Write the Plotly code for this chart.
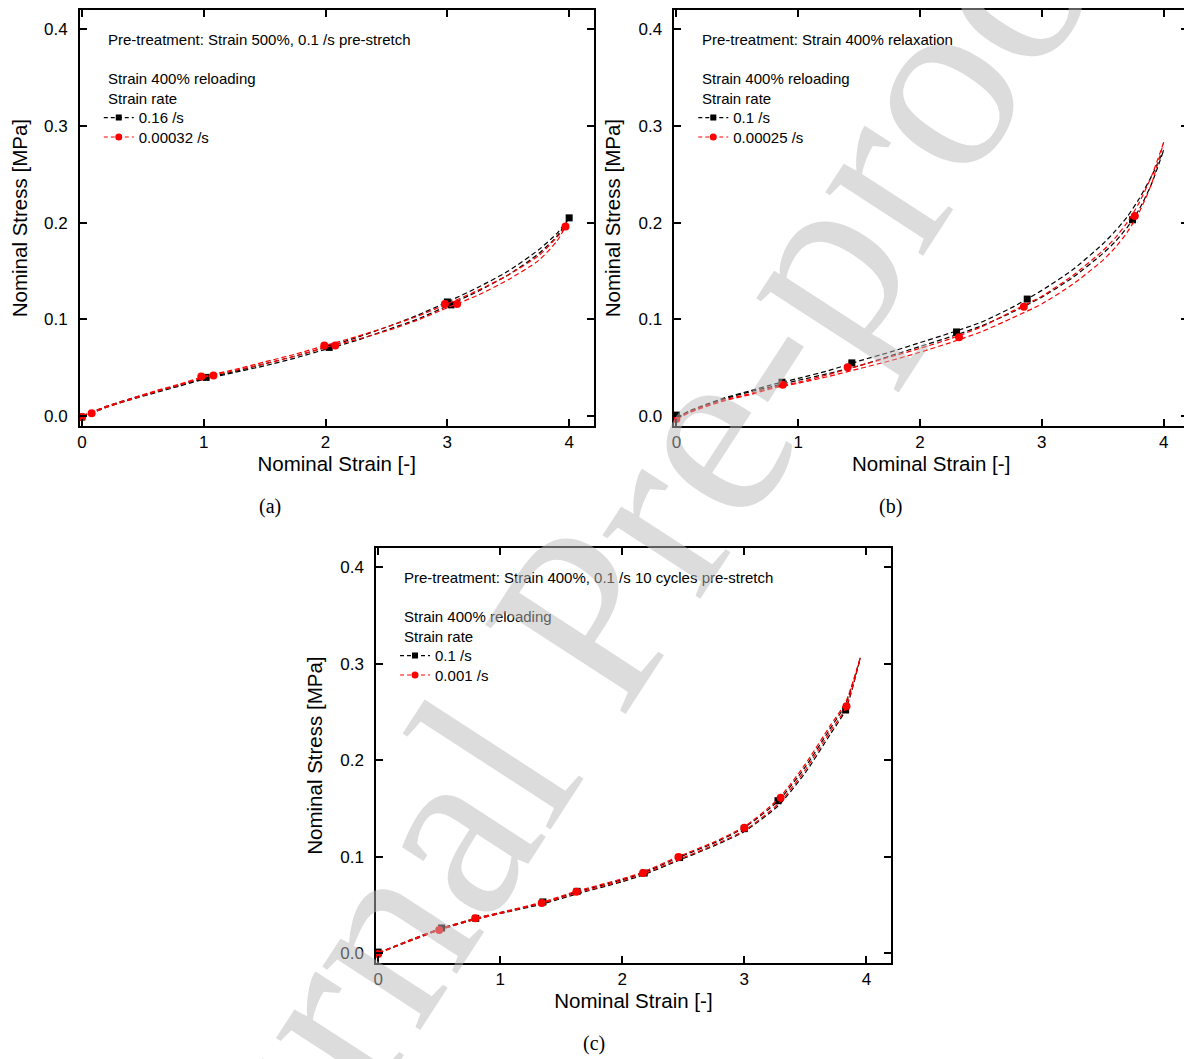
import plotly.graph_objects as go

# ---------------- data ----------------
# Panel (a): pre-treatment 500% pre-stretch
A_fast_strain = [0, 0.1, 0.2, 0.4, 0.6, 0.8, 1.0, 1.25, 1.5, 1.75, 2.0, 2.25, 2.5, 2.75, 3.0, 3.25, 3.5, 3.75, 3.9, 4.0]
A_fast_load = [0.000, 0.005, 0.010, 0.018, 0.025, 0.032, 0.039, 0.046, 0.054, 0.062, 0.071, 0.081, 0.092, 0.104, 0.118, 0.133, 0.150, 0.172, 0.189, 0.205]
A_fast_unload = [0.000, 0.004, 0.009, 0.017, 0.024, 0.031, 0.038, 0.045, 0.052, 0.060, 0.069, 0.078, 0.089, 0.100, 0.114, 0.129, 0.146, 0.168, 0.186, 0.205]
A_slow_strain = [0, 0.1, 0.2, 0.4, 0.6, 0.8, 1.0, 1.25, 1.5, 1.75, 2.0, 2.25, 2.5, 2.75, 3.0, 3.25, 3.5, 3.75, 3.9, 3.97]
A_slow_load = [0.000, 0.005, 0.010, 0.018, 0.026, 0.033, 0.041, 0.048, 0.056, 0.064, 0.073, 0.082, 0.092, 0.103, 0.116, 0.130, 0.146, 0.166, 0.185, 0.196]
A_slow_unload = [0.000, 0.004, 0.009, 0.017, 0.025, 0.032, 0.040, 0.047, 0.054, 0.062, 0.071, 0.079, 0.088, 0.099, 0.112, 0.125, 0.141, 0.161, 0.181, 0.196]
A_fast_mk_x = [0.00, 1.02, 2.03, 3.00, 3.03, 4.00]
A_fast_mk_y = [-0.001, 0.040, 0.071, 0.118, 0.115, 0.205]
A_slow_mk_x = [0.00, 0.08, 0.98, 1.08, 1.99, 2.08, 2.98, 3.08, 3.97]
A_slow_mk_y = [-0.001, 0.003, 0.041, 0.042, 0.073, 0.073, 0.116, 0.116, 0.196]

# Panel (b): pre-treatment 400% relaxation
B_strain = [0, 0.1, 0.2, 0.4, 0.6, 0.8, 1.0, 1.25, 1.5, 1.75, 2.0, 2.25, 2.5, 2.75, 3.0, 3.25, 3.5, 3.6, 3.7, 3.8, 3.9, 4.0]
B_fast_load = [-0.002, 0.005, 0.010, 0.019, 0.026, 0.033, 0.039, 0.047, 0.057, 0.066, 0.076, 0.086, 0.097, 0.112, 0.130, 0.151, 0.178, 0.191, 0.206, 0.225, 0.248, 0.275]
B_fast_unload = [-0.002, 0.004, 0.009, 0.018, 0.025, 0.031, 0.037, 0.044, 0.052, 0.062, 0.072, 0.082, 0.093, 0.107, 0.123, 0.143, 0.168, 0.180, 0.195, 0.214, 0.240, 0.275]
B_slow_load = [-0.003, 0.004, 0.009, 0.017, 0.023, 0.030, 0.035, 0.043, 0.052, 0.061, 0.070, 0.080, 0.092, 0.108, 0.124, 0.145, 0.171, 0.184, 0.200, 0.221, 0.248, 0.283]
B_slow_unload = [-0.003, 0.003, 0.008, 0.016, 0.022, 0.029, 0.034, 0.041, 0.049, 0.057, 0.066, 0.076, 0.087, 0.101, 0.116, 0.136, 0.161, 0.174, 0.190, 0.211, 0.240, 0.283]
B_fast_mk_x = [0.00, 0.867, 1.44, 2.30, 2.88, 3.744]
B_fast_mk_y = [0.001, 0.035, 0.055, 0.087, 0.121, 0.203]
B_slow_mk_x = [0.00, 0.873, 1.406, 2.32, 2.852, 3.763]
B_slow_mk_y = [-0.003, 0.0325, 0.0505, 0.0815, 0.113, 0.207]

# Panel (c): pre-treatment 400% 10 cycles pre-stretch
C_strain = [0, 0.25, 0.5, 0.8, 1.0, 1.35, 1.62, 2.0, 2.17, 2.46, 2.75, 3.0, 3.28, 3.5, 3.7, 3.83, 3.95]
C_fast_load = [0.000, 0.013, 0.025, 0.036, 0.042, 0.052, 0.063, 0.076, 0.083, 0.099, 0.114, 0.130, 0.158, 0.193, 0.232, 0.258, 0.306]
C_fast_unload = [0.000, 0.012, 0.024, 0.035, 0.041, 0.051, 0.061, 0.074, 0.081, 0.096, 0.111, 0.126, 0.153, 0.187, 0.226, 0.252, 0.306]
C_slow_load = [0.000, 0.013, 0.025, 0.036, 0.042, 0.053, 0.064, 0.077, 0.084, 0.100, 0.115, 0.131, 0.160, 0.196, 0.235, 0.260, 0.306]
C_slow_unload = [0.000, 0.012, 0.024, 0.035, 0.041, 0.052, 0.062, 0.075, 0.082, 0.097, 0.112, 0.127, 0.155, 0.190, 0.229, 0.254, 0.306]
C_fast_mk_x = [0.00, 0.52, 0.80, 1.35, 1.63, 2.18, 2.47, 3.00, 3.276, 3.83]
C_fast_mk_y = [0.001, 0.026, 0.036, 0.053, 0.064, 0.083, 0.099, 0.129, 0.158, 0.252]
C_slow_mk_x = [0.00, 0.50, 0.795, 1.34, 1.624, 2.17, 2.46, 3.00, 3.298, 3.837]
C_slow_mk_y = [-0.001, 0.024, 0.036, 0.052, 0.0635, 0.083, 0.0995, 0.130, 0.161, 0.256]

pretreat_labels = ["Pre-treatment: Strain 500%, 0.1 /s pre-stretch",
                   "Pre-treatment: Strain 400% relaxation",
                   "Pre-treatment: Strain 400%, 0.1 /s 10 cycles pre-stretch"]
rate_labels = [["0.16 /s", "0.00032 /s"], ["0.1 /s", "0.00025 /s"], ["0.1 /s", "0.001 /s"]]
panel_labels = ["(a)", "(b)", "(c)"]
x_ticks = [0, 1, 2, 3, 4]
y_ticks = [0.0, 0.1, 0.2, 0.3, 0.4]

# ---------------- figure ----------------
W, H = 1192, 1059
OFF = 8  # page margin of the html body
SANS = "Liberation Sans, Arial, sans-serif"
SERIF = "Liberation Serif, Times New Roman, serif"
BLACK, RED = "#000000", "#ff0000"
DASH = "5px,3px"


def px(xp):
    return (xp - OFF) / W


def py(yp):
    return 1 - (yp - OFF) / H


panels = [
    dict(fast=(A_fast_strain, A_fast_load, A_fast_unload), slow=(A_slow_strain, A_slow_load, A_slow_unload),
         fmk=(A_fast_mk_x, A_fast_mk_y), smk=(A_slow_mk_x, A_slow_mk_y),
         box=(77, 592, 8, 425), label_xy=(268, 505)),
    dict(fast=(B_strain, B_fast_load, B_fast_unload), slow=(B_strain, B_slow_load, B_slow_unload),
         fmk=(B_fast_mk_x, B_fast_mk_y), smk=(B_slow_mk_x, B_slow_mk_y),
         box=(673, 1188, 8, 425), label_xy=(890, 505)),
    dict(fast=(C_strain, C_fast_load, C_fast_unload), slow=(C_strain, C_slow_load, C_slow_unload),
         fmk=(C_fast_mk_x, C_fast_mk_y), smk=(C_slow_mk_x, C_slow_mk_y),
         box=(374, 890, 547, 963), label_xy=(592, 1043)),
]

fig = go.Figure()
annotations = []
layout = dict(width=W, height=H, margin=dict(l=0, r=0, t=0, b=0),
              paper_bgcolor="white", plot_bgcolor="white", showlegend=True)

leg_count = 0
for i, p in enumerate(panels):
    n = "" if i == 0 else str(i + 1)
    xa, ya = "x" + n, "y" + n
    l, r, t, b = p["box"]
    layout["xaxis" + n] = dict(
        domain=[px(l), px(r)], anchor=ya, range=[-0.017, 4.2], tickvals=x_ticks,
        ticks="inside", ticklen=7, tickwidth=1.5, tickcolor="black",
        showline=True, linewidth=1.6, linecolor="black", mirror="ticks",
        showgrid=False, zeroline=False,
        tickfont=dict(family=SANS, size=17, color="black"),
        title=dict(text="Nominal Strain [-]", font=dict(family=SANS, size=20.5, color="black"), standoff=4))
    layout["yaxis" + n] = dict(
        domain=[py(b), py(t)], anchor=xa, range=[-0.0105, 0.42], tickvals=y_ticks,
        tickformat=".1f", ticks="inside", ticklen=7, tickwidth=1.5, tickcolor="black",
        showline=True, linewidth=1.6, linecolor="black", mirror="ticks",
        showgrid=False, zeroline=False, ticklabelstandoff=7,
        tickfont=dict(family=SANS, size=17, color="black"),
        title=dict(text="Nominal Stress [MPa]", font=dict(family=SANS, size=20.5, color="black"), standoff=12))

    for j, (key, mk, col, sym, sz) in enumerate([("fast", "fmk", BLACK, "square", 7),
                                                 ("slow", "smk", RED, "circle", 8)]):
        sx, yl, yu = p[key]
        for yy in (yl, yu):
            fig.add_trace(go.Scatter(x=sx, y=yy, mode="lines", xaxis=xa, yaxis=ya,
                                     line=dict(color=col, width=1.2, dash=DASH, shape="spline", smoothing=0.6),
                                     showlegend=False, hoverinfo="skip"))
        fig.add_trace(go.Scatter(x=p[mk][0], y=p[mk][1], mode="markers", xaxis=xa, yaxis=ya,
                                 marker=dict(color=col, symbol=sym, size=sz, line=dict(width=0)),
                                 cliponaxis=False, showlegend=False, hoverinfo="skip"))
        # legend entry (one legend box per entry, for exact placement)
        leg_count += 1
        leg = "legend" if leg_count == 1 else "legend%d" % leg_count
        fig.add_trace(go.Scatter(x=[None], y=[None], mode="lines+markers", xaxis=xa, yaxis=ya,
                                 name=rate_labels[i][j], legend=leg,
                                 line=dict(color=col, width=1.2, dash="4px,3px"),
                                 marker=dict(color=col, symbol=sym, size=sz - 1, line=dict(width=0))))
        layout[leg] = dict(x=px(l + 26 - 7), y=py(t + 108 + 19.5 * j), xanchor="left", yanchor="middle",
                           bgcolor="rgba(0,0,0,0)", borderwidth=0, itemwidth=30,
                           font=dict(family=SANS, size=15, color="black"))

    dx = l + 26
    for txt, yy in [(pretreat_labels[i], t + 30), ("Strain 400% reloading", t + 69), ("Strain rate", t + 89)]:
        annotations.append(dict(text=txt, x=px(dx), y=py(yy), xref="paper", yref="paper",
                                xanchor="left", yanchor="middle", showarrow=False,
                                font=dict(family=SANS, size=15, color="black")))
    lx, ly = p["label_xy"]
    annotations.append(dict(text=panel_labels[i], x=px(lx), y=py(ly), xref="paper", yref="paper",
                            xanchor="center", yanchor="middle", showarrow=False,
                            font=dict(family=SERIF, size=20, color="black")))

# watermark
annotations.append(dict(text="Journal Pre-proof", x=px(592), y=py(606), xref="paper", yref="paper",
                        xanchor="center", yanchor="middle", showarrow=False, textangle=-57,
                        font=dict(family=SERIF, size=254, color="rgba(185,185,185,0.5)")))

layout["annotations"] = annotations
fig.update_layout(**layout)
fig.write_html("out.html")
